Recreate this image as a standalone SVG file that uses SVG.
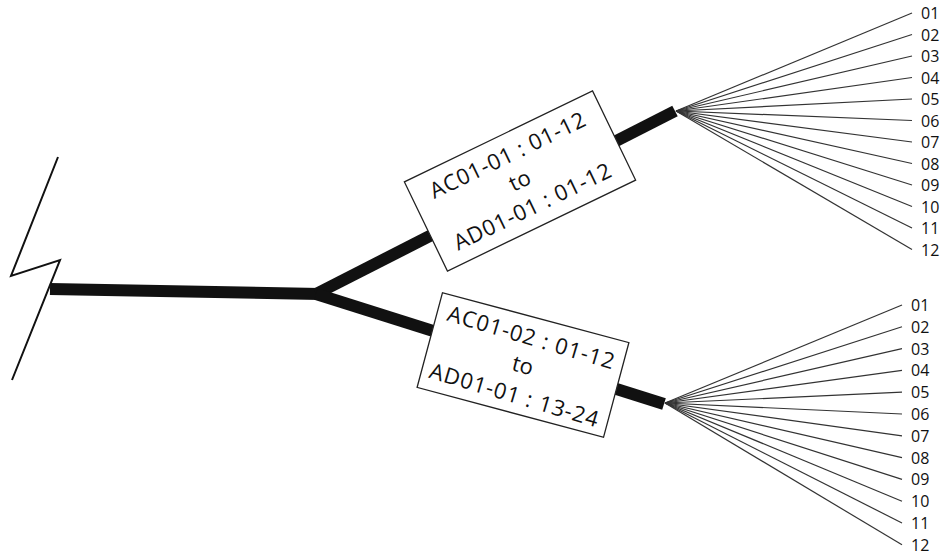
<svg xmlns="http://www.w3.org/2000/svg" width="945" height="555" viewBox="0 0 945 555">
  <style>
    .cable { stroke: #111; stroke-width: 12; fill: none; stroke-linecap: butt; }
    .fiber { stroke: #333; stroke-width: 1.2; fill: none; }
    .brk { stroke: #111; stroke-width: 2; fill: none; stroke-linejoin: miter; }
    .box { fill: #fff; stroke: #222; stroke-width: 1.3; }
    .lbl { font-family: "Open Sans", "Liberation Sans", sans-serif; font-size: 22px; fill: #111; text-anchor: middle; }
    .num { font-family: "Open Sans", "Liberation Sans", sans-serif; font-size: 16px; fill: #111; }
  </style>

  <!-- connectors: trunk cable, branches and fan-out fibers -->
  <g id="connectors">
    <line class="cable" x1="50" y1="289" x2="320" y2="294"/>
    <line class="cable" x1="316" y1="294" x2="675" y2="111"/>
    <line class="cable" x1="316" y1="294" x2="664" y2="404"/>

    <g id="fan-upper">
      <line class="fiber" x1="676" y1="111" x2="912" y2="13"/>
      <line class="fiber" x1="676" y1="111" x2="912" y2="34.5"/>
      <line class="fiber" x1="676" y1="111" x2="912" y2="56"/>
      <line class="fiber" x1="676" y1="111" x2="912" y2="77.5"/>
      <line class="fiber" x1="676" y1="111" x2="912" y2="99"/>
      <line class="fiber" x1="676" y1="111" x2="912" y2="120.5"/>
      <line class="fiber" x1="676" y1="111" x2="912" y2="142"/>
      <line class="fiber" x1="676" y1="111" x2="912" y2="163.5"/>
      <line class="fiber" x1="676" y1="111" x2="912" y2="185"/>
      <line class="fiber" x1="676" y1="111" x2="912" y2="206.5"/>
      <line class="fiber" x1="676" y1="111" x2="912" y2="228"/>
      <line class="fiber" x1="676" y1="111" x2="912" y2="249.5"/>
    </g>
    <g id="fan-lower">
      <line class="fiber" x1="665" y1="403" x2="902" y2="305"/>
      <line class="fiber" x1="665" y1="403" x2="902" y2="326.8"/>
      <line class="fiber" x1="665" y1="403" x2="902" y2="348.6"/>
      <line class="fiber" x1="665" y1="403" x2="902" y2="370.4"/>
      <line class="fiber" x1="665" y1="403" x2="902" y2="392.2"/>
      <line class="fiber" x1="665" y1="403" x2="902" y2="414"/>
      <line class="fiber" x1="665" y1="403" x2="902" y2="435.8"/>
      <line class="fiber" x1="665" y1="403" x2="902" y2="457.6"/>
      <line class="fiber" x1="665" y1="403" x2="902" y2="479.4"/>
      <line class="fiber" x1="665" y1="403" x2="902" y2="501.2"/>
      <line class="fiber" x1="665" y1="403" x2="902" y2="523"/>
      <line class="fiber" x1="665" y1="403" x2="902" y2="544.8"/>
    </g>
  </g>

  <!-- break symbol at the cable end -->
  <g id="break">
    <polyline class="brk" points="58,157 11,276 60,260 12,380"/>
  </g>

  <!-- splice label, upper branch -->
  <g id="label-upper" transform="translate(520,181) rotate(-25.8)">
    <rect class="box" x="-104.5" y="-49.5" width="209" height="99"/>
    <text class="lbl" x="0" y="-21" textLength="170" lengthAdjust="spacing" xml:space="preserve">AC01-01 : 01-12</text>
    <text class="lbl" x="0" y="7">to</text>
    <text class="lbl" x="0" y="36" textLength="172" lengthAdjust="spacing" xml:space="preserve">AD01-01 : 01-12</text>
  </g>

  <!-- splice label, lower branch -->
  <g id="label-lower" transform="translate(523,365) rotate(15)">
    <rect class="box" x="-96.5" y="-49" width="193" height="98"/>
    <text class="lbl" x="0" y="-21" transform="rotate(1.5)" textLength="173" lengthAdjust="spacing" xml:space="preserve">AC01-02 : 01-12</text>
    <text class="lbl" x="0" y="8">to</text>
    <text class="lbl" x="0" y="39" transform="rotate(1.5)" textLength="175" lengthAdjust="spacing" xml:space="preserve">AD01-01 : 13-24</text>
  </g>

  <!-- fiber numbers, upper fan -->
  <g id="numbers-upper" class="num">
    <text x="921" y="19">01</text>
    <text x="921" y="40.5">02</text>
    <text x="921" y="62">03</text>
    <text x="921" y="83.5">04</text>
    <text x="921" y="105">05</text>
    <text x="921" y="126.5">06</text>
    <text x="921" y="148">07</text>
    <text x="921" y="169.5">08</text>
    <text x="921" y="191">09</text>
    <text x="921" y="212.5">10</text>
    <text x="921" y="234">11</text>
    <text x="921" y="255.5">12</text>
  </g>

  <!-- fiber numbers, lower fan -->
  <g id="numbers-lower" class="num">
    <text x="911" y="311">01</text>
    <text x="911" y="332.8">02</text>
    <text x="911" y="354.6">03</text>
    <text x="911" y="376.4">04</text>
    <text x="911" y="398.2">05</text>
    <text x="911" y="420">06</text>
    <text x="911" y="441.8">07</text>
    <text x="911" y="463.6">08</text>
    <text x="911" y="485.4">09</text>
    <text x="911" y="507.2">10</text>
    <text x="911" y="529">11</text>
    <text x="911" y="550.8">12</text>
  </g>
</svg>
